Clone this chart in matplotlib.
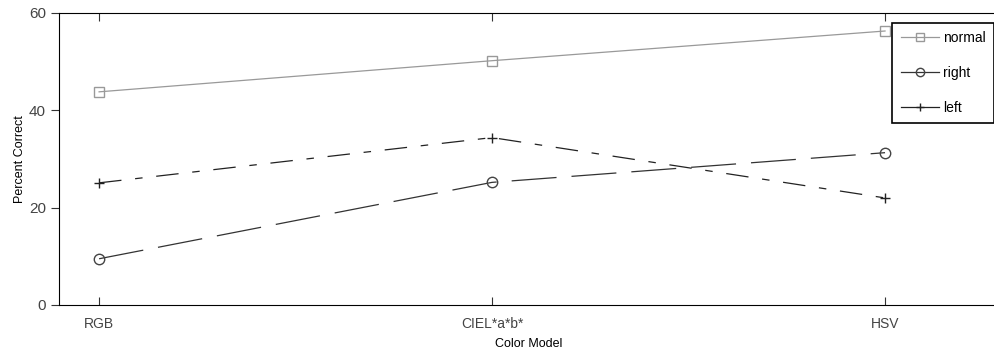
import matplotlib.pyplot as plt
import numpy as np

plt.rcParams['font.family'] = ['Liberation Sans', 'DejaVu Sans']

# === Data ===
models = ["RGB", "CIEL*a*b*", "HSV"]
normal = [43.8, 50.2, 56.3]
right = [9.5, 25.2, 31.3]
left = [25.1, 34.4, 22.0]

fig = plt.figure(figsize=(9.95, 3.56), dpi=100)
ax = fig.add_axes([59/995, 51/356, 940/995, 292/356])
x = np.arange(len(models))

ax.plot(x, normal, color="#999999", lw=0.9, marker="s", ms=7, mfc="none",
        mec="#999999", label="normal")
ax.plot(x, right, color="#333333", lw=0.9, marker="o", ms=7.5, mfc="none",
        mec="#444444", dashes=(36, 12), label="right")
ax.plot(x, left, color="#222222", lw=0.9, marker="+", ms=7, mew=1,
        dashes=(18, 11, 6, 11), label="left")

ax.set_xlim(-0.102, 2.29)
ax.set_ylim(0, 60)
ax.set_xticks(x)
ax.set_xticklabels(models)
ax.set_yticks([0, 20, 40, 60])
ax.tick_params(axis="x", direction="in", top=True, length=6, colors="#333333",
               labelsize=10, pad=9, labelcolor="#444444")
ax.tick_params(axis="y", direction="out", right=True, length=6, colors="#333333",
               labelsize=11, labelcolor="#444444")
ax.set_xlabel("Color Model", fontsize=9, labelpad=5)
ax.set_ylabel("Percent Correct", fontsize=9, labelpad=2)
ax.spines["right"].set_visible(False)

leg = ax.legend(loc="upper right", bbox_to_anchor=(994/995, 1 - 23/356),
                bbox_transform=fig.transFigure, borderaxespad=0, fontsize=10,
                frameon=True, fancybox=False, handlelength=2.8, labelspacing=1.5,
                borderpad=0.6, handletextpad=0.25, markerscale=0.8)
leg.get_frame().set_edgecolor("black")
leg.get_frame().set_linewidth(1.2)
leg.get_frame().set_alpha(1)
for h in leg.get_lines():
    h.set_linestyle("-")

plt.savefig("out.png", dpi=100)
